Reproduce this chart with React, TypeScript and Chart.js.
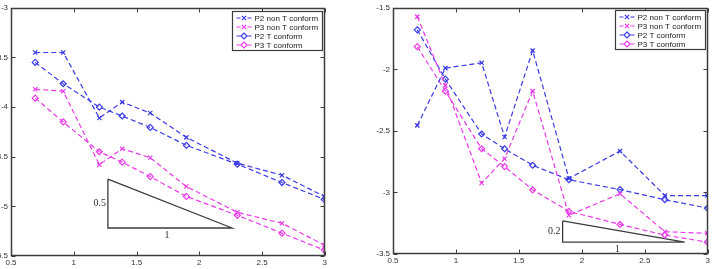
import React, { useEffect, useRef } from 'react';
import { Chart, registerables } from 'chart.js';

Chart.register(...registerables);

// ---------- data ----------
const xValues = [0.693, 0.916, 1.204, 1.386, 1.609, 1.897, 2.303, 2.659, 2.996];
const seriesLabels = ['P2 non T conform', 'P3 non T conform', 'P2 T conform', 'P3 T conform'];

const leftP2Non = [-3.45, -3.45, -4.11, -3.95, -4.06, -4.305, -4.565, -4.686, -4.9];
const leftP3Non = [-3.82, -3.84, -4.58, -4.42, -4.51, -4.8, -5.06, -5.17, -5.39];
const leftP2T = [-3.55, -3.765, -4.0, -4.09, -4.205, -4.385, -4.575, -4.76, -4.93];
const leftP3T = [-3.91, -4.15, -4.45, -4.555, -4.7, -4.9, -5.09, -5.27, -5.44];

const rightP2Non = [-2.455, -1.99, -1.947, -2.55, -1.848, -2.886, -2.664, -3.025, -3.025];
const rightP3Non = [-1.572, -2.13, -2.923, -2.726, -2.177, -3.185, -3.011, -3.319, -3.332];
const rightP2T = [-1.679, -2.08, -2.525, -2.645, -2.779, -2.897, -2.977, -3.059, -3.127];
const rightP3T = [-1.816, -2.177, -2.645, -2.79, -2.979, -3.153, -3.26, -3.346, -3.404];

const xTicks = [0.5, 1, 1.5, 2, 2.5, 3];
const leftYTicks = [-5.5, -5, -4.5, -4, -3.5, -3];
const rightYTicks = [-3.5, -3, -2.5, -2, -1.5];

const leftTriangle = [
  { x: 1.272, y: -4.726 },
  { x: 1.272, y: -5.218 },
  { x: 2.261, y: -5.218 },
  { x: 1.272, y: -4.726 },
];
const rightTriangle = [
  { x: 1.847, y: -3.231 },
  { x: 1.847, y: -3.404 },
  { x: 2.816, y: -3.404 },
  { x: 1.847, y: -3.231 },
];
const leftTriLabels = ['0.5', '1'];
const rightTriLabels = ['0.2', '1'];
const leftHorizLabelX = 1.742;
const rightHorizLabelX = 2.28;

const BLUE = '#3a3ae6';
const MAGENTA = '#ea3aea';
const FRAME = '#3c3c3c';

type Cfg = {
  series: number[][];
  yMin: number;
  yMax: number;
  yTicks: number[];
  triangle: { x: number; y: number }[];
  triLabels: string[];
  horizLabelX: number;
  yAxisWidth: number;
  xAxisHeight: number;
  padRight: number;
  legendRight: number;
  legendTop: number;
};

function drawMarker(ctx: CanvasRenderingContext2D, style: string, x: number, y: number, r: number, color: string) {
  ctx.save();
  ctx.strokeStyle = color;
  ctx.lineWidth = 1.2;
  ctx.setLineDash([]);
  ctx.beginPath();
  if (style === 'crossRot') {
    const d = r * 0.7;
    ctx.moveTo(x - d, y - d);
    ctx.lineTo(x + d, y + d);
    ctx.moveTo(x - d, y + d);
    ctx.lineTo(x + d, y - d);
  } else {
    ctx.moveTo(x, y - r);
    ctx.lineTo(x + r, y);
    ctx.lineTo(x, y + r);
    ctx.lineTo(x - r, y);
    ctx.closePath();
  }
  ctx.stroke();
  ctx.restore();
}

const colors = [BLUE, MAGENTA, BLUE, MAGENTA];
const styles = ['crossRot', 'crossRot', 'rectRot', 'rectRot'];

function makeConfig(c: Cfg): any {
  const datasets: any[] = c.series.map((vals, i) => ({
    label: seriesLabels[i],
    data: xValues.map((x, j) => ({ x, y: vals[j] })),
    borderColor: colors[i],
    backgroundColor: 'rgba(0,0,0,0)',
    borderWidth: 1.2,
    borderDash: [5, 3],
    pointStyle: styles[i],
    pointRadius: 3,
    pointBorderWidth: 1.2,
    pointBorderColor: colors[i],
    pointBackgroundColor: 'rgba(0,0,0,0)',
    tension: 0,
    fill: false,
  }));
  datasets.push({
    label: 'triangle',
    data: c.triangle,
    borderColor: FRAME,
    borderWidth: 1.3,
    pointRadius: 0,
    tension: 0,
    fill: false,
  });

  const framePlugin = {
    id: 'matlabFrame',
    afterDatasetsDraw(chart: any) {
      const ctx: CanvasRenderingContext2D = chart.ctx;
      const a = chart.chartArea;
      const xs = chart.scales.x;
      const ys = chart.scales.y;
      ctx.save();
      // triangle labels
      ctx.fillStyle = '#333';
      ctx.font = '10px "Liberation Serif", "DejaVu Serif", serif';
      const t = c.triangle;
      const vx = xs.getPixelForValue(t[0].x);
      const midY = (ys.getPixelForValue(t[0].y) + ys.getPixelForValue(t[1].y)) / 2;
      ctx.textAlign = 'right';
      ctx.textBaseline = 'middle';
      ctx.fillText(c.triLabels[0], vx - 2, midY);
      ctx.textAlign = 'center';
      ctx.fillText(c.triLabels[1], xs.getPixelForValue(c.horizLabelX), ys.getPixelForValue(t[1].y) + 7);

      // frame
      ctx.strokeStyle = FRAME;
      ctx.lineWidth = 1.5;
      ctx.setLineDash([]);
      const L = Math.round(a.left) + 0.5;
      const R = Math.round(a.right) - 0.5;
      const T = Math.round(a.top) + 0.5;
      const B = Math.round(a.bottom) - 0.5;
      ctx.strokeRect(L, T, R - L, B - T);
      // inward ticks
      const tl = 4;
      ctx.lineWidth = 1;
      ctx.beginPath();
      xTicks.forEach((v) => {
        const px = Math.round(xs.getPixelForValue(v)) + 0.5;
        ctx.moveTo(px, B);
        ctx.lineTo(px, B - tl);
        ctx.moveTo(px, T);
        ctx.lineTo(px, T + tl);
      });
      c.yTicks.forEach((v) => {
        const py = Math.round(ys.getPixelForValue(v)) + 0.5;
        ctx.moveTo(L, py);
        ctx.lineTo(L + tl, py);
        ctx.moveTo(R, py);
        ctx.lineTo(R - tl, py);
      });
      ctx.stroke();

      // legend
      const w = 90;
      const h = 39;
      const x0 = Math.round(a.right - c.legendRight - w) + 0.5;
      const y0 = Math.round(a.top + c.legendTop) + 0.5;
      ctx.fillStyle = '#ffffff';
      ctx.fillRect(x0, y0, w, h);
      ctx.strokeStyle = FRAME;
      ctx.lineWidth = 1.2;
      ctx.strokeRect(x0, y0, w, h);
      ctx.font = '8px "Liberation Sans", Arial, sans-serif';
      ctx.textAlign = 'left';
      ctx.textBaseline = 'middle';
      seriesLabels.forEach((lab, i) => {
        const yy = y0 + 6.5 + i * 9;
        ctx.strokeStyle = colors[i];
        ctx.lineWidth = 1.2;
        ctx.beginPath();
        ctx.moveTo(x0 + 4, yy);
        ctx.lineTo(x0 + 8, yy);
        ctx.moveTo(x0 + 15, yy);
        ctx.lineTo(x0 + 19, yy);
        ctx.stroke();
        drawMarker(ctx, styles[i], x0 + 11.5, yy, 3, colors[i]);
        ctx.fillStyle = '#222';
        ctx.fillText(lab, x0 + 22, yy + 0.5);
      });
      ctx.restore();
    },
  };

  const tickFont = { family: '"Liberation Sans", Arial, sans-serif', size: 8 };

  return {
    type: 'line',
    data: { datasets },
    plugins: [framePlugin],
    options: {
      animation: false,
      responsive: false,
      devicePixelRatio: 1,
      layout: { padding: { top: 5, right: c.padRight, bottom: 0, left: 0 } },
      plugins: { legend: { display: false }, tooltip: { enabled: false } },
      scales: {
        x: {
          type: 'linear',
          min: 0.5,
          max: 3,
          grid: { display: false, drawTicks: false },
          border: { display: false },
          ticks: {
            font: tickFont,
            color: '#333',
            padding: 2,
            maxRotation: 0,
            autoSkip: false,
            callback: (v: any) => String(Number(v)),
          },
          afterBuildTicks: (s: any) => {
            s.ticks = xTicks.map((v) => ({ value: v }));
          },
          afterFit: (s: any) => {
            s.height = c.xAxisHeight;
          },
        },
        y: {
          type: 'linear',
          min: c.yMin,
          max: c.yMax,
          grid: { display: false, drawTicks: false },
          border: { display: false },
          ticks: {
            font: tickFont,
            color: '#333',
            padding: 3,
            autoSkip: false,
            callback: (v: any) => String(Number(v)),
          },
          afterBuildTicks: (s: any) => {
            s.ticks = c.yTicks.map((v) => ({ value: v }));
          },
          afterFit: (s: any) => {
            s.width = c.yAxisWidth;
          },
        },
      },
    },
  };
}

function ChartCanvas(props: { cfg: Cfg; left: number; width: number }) {
  const ref = useRef<HTMLCanvasElement | null>(null);
  useEffect(() => {
    if (!ref.current) return;
    const chart = new Chart(ref.current, makeConfig(props.cfg));
    return () => chart.destroy();
  }, []);
  return (
    <canvas
      ref={ref}
      width={props.width}
      height={269}
      style={{ position: 'absolute', left: props.left, top: 0, width: props.width, height: 269 }}
    />
  );
}

const leftCfg: Cfg = {
  series: [leftP2Non, leftP3Non, leftP2T, leftP3T],
  yMin: -5.5,
  yMax: -3,
  yTicks: leftYTicks,
  triangle: leftTriangle,
  triLabels: leftTriLabels,
  horizLabelX: leftHorizLabelX,
  yAxisWidth: 41,
  xAxisHeight: 13,
  padRight: 3,
  legendRight: 3,
  legendTop: 3,
};

const rightCfg: Cfg = {
  series: [rightP2Non, rightP3Non, rightP2T, rightP3T],
  yMin: -3.5,
  yMax: -1.5,
  yTicks: rightYTicks,
  triangle: rightTriangle,
  triLabels: rightTriLabels,
  horizLabelX: rightHorizLabelX,
  yAxisWidth: 53,
  xAxisHeight: 15,
  padRight: 5,
  legendRight: 3,
  legendTop: 2,
};

export default function App() {
  return (
    <div
      style={{
        position: 'fixed',
        left: 0,
        top: 0,
        width: 713,
        height: 269,
        overflow: 'hidden',
        background: '#ffffff',
      }}
    >
      <ChartCanvas cfg={leftCfg} left={-30} width={360} />
      <ChartCanvas cfg={rightCfg} left={340} width={373} />
    </div>
  );
}
